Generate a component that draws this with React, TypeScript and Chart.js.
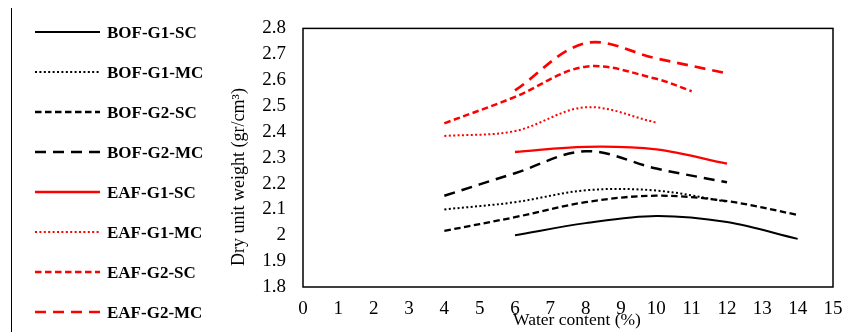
import React, { useEffect, useRef } from 'react';
import { Chart, registerables } from 'chart.js';

Chart.register(...registerables);

const seriesLabels = ['BOF-G1-SC', 'BOF-G1-MC', 'BOF-G2-SC', 'BOF-G2-MC', 'EAF-G1-SC', 'EAF-G1-MC', 'EAF-G2-SC', 'EAF-G2-MC'];

const bofG1ScX = [6, 8, 10, 12, 14];
const bofG1ScY = [2.0, 2.047, 2.075, 2.051, 1.986];
const bofG1McX = [4, 6, 8, 10, 12];
const bofG1McY = [2.1, 2.128, 2.174, 2.173, 2.13];
const bofG2ScX = [4, 6, 8, 10, 12, 14];
const bofG2ScY = [2.017, 2.07, 2.128, 2.153, 2.132, 2.079];
const bofG2McX = [4, 6, 8, 10, 12];
const bofG2McY = [2.153, 2.24, 2.325, 2.258, 2.205];
const eafG1ScX = [6, 8, 10, 12];
const eafG1ScY = [2.322, 2.342, 2.332, 2.277];
const eafG1McX = [4, 6, 8, 10];
const eafG1McY = [2.384, 2.403, 2.495, 2.436];
const eafG2ScX = [4, 6, 8, 10, 11];
const eafG2ScY = [2.433, 2.535, 2.652, 2.605, 2.557];
const eafG2McX = [6, 8, 10, 12];
const eafG2McY = [2.56, 2.743, 2.684, 2.626];

const xTickMin = 0;
const xTickMax = 15;
const yTickMin = 1.8;
const yTickMax = 2.8;

const xTitle = 'Water content (%)';
const yTitle = 'Dry unit weight (gr/cm³)';

const SERIF = "'Times New Roman', 'Liberation Serif', serif";

const pts = (xs: number[], ys: number[]) => xs.map((x, i) => ({ x, y: ys[i] }));

const SOLID: number[] = [];
const DOT = [2, 2.4];
const SHORT = [6.5, 3.5];
const LONG = [11, 7];

const styles = [
  { color: '#000000', dash: SOLID, width: 2 },
  { color: '#000000', dash: DOT, width: 2 },
  { color: '#000000', dash: SHORT, width: 2.3 },
  { color: '#000000', dash: LONG, width: 2.5 },
  { color: '#ff0000', dash: SOLID, width: 2.3 },
  { color: '#ff0000', dash: DOT, width: 2 },
  { color: '#ff0000', dash: SHORT, width: 2.5 },
  { color: '#ff0000', dash: LONG, width: 2.7 },
];

const dataPairs = [
  pts(bofG1ScX, bofG1ScY),
  pts(bofG1McX, bofG1McY),
  pts(bofG2ScX, bofG2ScY),
  pts(bofG2McX, bofG2McY),
  pts(eafG1ScX, eafG1ScY),
  pts(eafG1McX, eafG1McY),
  pts(eafG2ScX, eafG2ScY),
  pts(eafG2McX, eafG2McY),
];

const decorPlugin = {
  id: 'decor',
  afterDraw(chart: any) {
    const { ctx, chartArea } = chart;
    ctx.save();
    // plot border
    ctx.setLineDash([]);
    ctx.strokeStyle = '#000';
    ctx.lineWidth = 1.5;
    ctx.strokeRect(chartArea.left, chartArea.top, chartArea.right - chartArea.left, chartArea.bottom - chartArea.top);

    // legend frame line
    ctx.lineWidth = 1;
    ctx.beginPath();
    ctx.moveTo(11.5, 8);
    ctx.lineTo(11.5, 332);
    ctx.stroke();

    // legend entries
    chart.data.datasets.forEach((ds: any, i: number) => {
      const y = 32 + 40 * i;
      ctx.strokeStyle = ds.borderColor;
      ctx.lineWidth = ds.borderWidth;
      ctx.setLineDash(ds.borderDash || []);
      ctx.beginPath();
      ctx.moveTo(35, y);
      ctx.lineTo(100, y);
      ctx.stroke();
      ctx.setLineDash([]);
      ctx.fillStyle = '#000';
      ctx.font = `bold 17px ${SERIF}`;
      ctx.textAlign = 'left';
      ctx.textBaseline = 'alphabetic';
      ctx.fillText(ds.label, 107, y + 6);
    });

    // axis titles
    ctx.fillStyle = '#000';
    ctx.font = `17.5px ${SERIF}`;
    ctx.textAlign = 'center';
    ctx.textBaseline = 'middle';
    ctx.fillText(xTitle, 577, 320);

    ctx.font = `18px ${SERIF}`;
    ctx.translate(239, 177);
    ctx.rotate(-Math.PI / 2);
    ctx.fillText(yTitle, 0, 0);
    ctx.restore();
  },
};

export default function App() {
  const canvasRef = useRef<HTMLCanvasElement | null>(null);

  useEffect(() => {
    if (!canvasRef.current) return;
    const chart = new Chart(canvasRef.current, {
      type: 'line',
      data: {
        datasets: seriesLabels.map((label, i) => ({
          label,
          data: dataPairs[i],
          borderColor: styles[i].color,
          backgroundColor: styles[i].color,
          borderWidth: styles[i].width,
          borderDash: styles[i].dash,
          pointRadius: 0,
          pointHoverRadius: 0,
          tension: 0.35,
          fill: false,
        })),
      },
      options: {
        animation: false,
        responsive: false,
        events: [],
        layout: { padding: { left: 0, top: 17, right: 24, bottom: 0 } },
        plugins: {
          legend: { display: false },
          tooltip: { enabled: false },
        },
        scales: {
          x: {
            type: 'linear',
            min: xTickMin,
            max: xTickMax,
            grid: { display: false, drawTicks: false },
            border: { display: false },
            ticks: {
              stepSize: 1,
              color: '#000',
              padding: 11,
              maxRotation: 0,
              font: { family: SERIF, size: 19 },
            },
            afterFit: (s: any) => {
              s.height = 45;
            },
          },
          y: {
            type: 'linear',
            min: yTickMin,
            max: yTickMax,
            grid: { display: false, drawTicks: false },
            border: { display: false },
            ticks: {
              stepSize: 0.1,
              color: '#000',
              padding: 17,
              font: { family: SERIF, size: 19 },
              callback: (v: any) => String(Number(Number(v).toFixed(1))),
            },
            afterFit: (s: any) => {
              s.width = 303;
            },
          },
        },
      },
      plugins: [decorPlugin],
    });
    return () => chart.destroy();
  }, []);

  return (
    <div style={{ position: 'fixed', left: 0, top: 0, width: 857, height: 332, background: '#fff' }}>
      <canvas ref={canvasRef} width={857} height={332} />
    </div>
  );
}
